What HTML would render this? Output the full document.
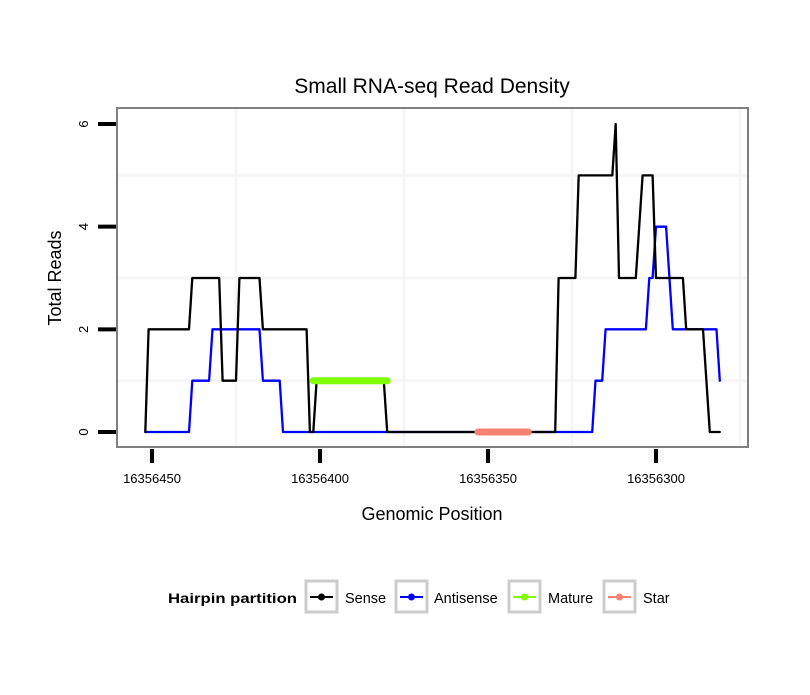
<!DOCTYPE html>
<html><head><meta charset="utf-8"><style>
body{margin:0;background:#fff;}
svg text{font-family:"Liberation Sans",sans-serif;}
</style></head><body>
<svg id="chart" width="810" height="690" xmlns="http://www.w3.org/2000/svg">
<rect width="810" height="690" fill="#fff"/>
<text x="432" y="93" font-size="21" text-anchor="middle">Small RNA-seq Read Density</text>
<g id="grid"></g>
<g id="series"></g>
<rect x="117" y="108" width="631" height="339" fill="none" stroke="#808080" stroke-width="2"/>
<g id="axes"></g>
<text x="432" y="520" font-size="18" text-anchor="middle">Genomic Position</text>
<text transform="translate(61,278) rotate(-90)" font-size="18" text-anchor="middle">Total Reads</text>
<g>
<text x="168" y="603" font-size="14" font-weight="bold" textLength="129" lengthAdjust="spacingAndGlyphs">Hairpin partition</text>
<g><rect x="306" y="581" width="31" height="31" fill="#fff" stroke="#ccc" stroke-width="3"/><line x1="310" y1="597" x2="333" y2="597" stroke="#000" stroke-width="2"/><circle cx="321.5" cy="597" r="3.5" fill="#000"/><text x="345" y="603" font-size="14.5">Sense</text></g>
<g><rect x="396" y="581" width="31" height="31" fill="#fff" stroke="#ccc" stroke-width="3"/><line x1="400" y1="597" x2="423" y2="597" stroke="#0000ff" stroke-width="2"/><circle cx="411.5" cy="597" r="3.5" fill="#0000ff"/><text x="434" y="603" font-size="14.5">Antisense</text></g>
<g><rect x="509" y="581" width="31" height="31" fill="#fff" stroke="#ccc" stroke-width="3"/><line x1="513" y1="597" x2="536" y2="597" stroke="#7fff00" stroke-width="2"/><circle cx="524.5" cy="597" r="3.5" fill="#7fff00"/><text x="548" y="603" font-size="14.5">Mature</text></g>
<g><rect x="604" y="581" width="31" height="31" fill="#fff" stroke="#ccc" stroke-width="3"/><line x1="608" y1="597" x2="631" y2="597" stroke="#fa8072" stroke-width="2"/><circle cx="619.5" cy="597" r="3.5" fill="#fa8072"/><text x="643" y="603" font-size="14.5">Star</text></g>
</g>
</svg>
<script>
const xTicks = [16356450, 16356400, 16356350, 16356300];
const yTicks = [0, 2, 4, 6];
const senseX = [16356452,16356451,16356439,16356438,16356430,16356429,16356425,16356424,16356418,16356417,16356404,16356403,16356402,16356401,16356381,16356380,16356330,16356329,16356324,16356323,16356313,16356312,16356311,16356306,16356304,16356301,16356300,16356292,16356291,16356286,16356284,16356281];
const senseY = [0,2,2,3,3,1,1,3,3,2,2,0,0,1,1,0,0,3,3,5,5,6,3,3,5,5,3,3,2,2,0,0];
const antiX = [16356452,16356439,16356438,16356433,16356432,16356418,16356417,16356412,16356411,16356319,16356318,16356316,16356315,16356303,16356302,16356301,16356300,16356297,16356295,16356282,16356281];
const antiY = [0,0,1,1,2,2,1,1,0,0,1,1,2,2,3,3,4,4,2,2,1];
const matureRange = [16356402, 16356380];
const matureVal = [1, 1];
const starRange = [16356353, 16356338];
const starVal = [0, 0];

const NS='http://www.w3.org/2000/svg';
function X(g){return 152 + (16356450 - g) * 3.36;}
function Y(v){return 432 - v * 51.33;}
function mk(tag, attrs, parent){const e=document.createElementNS(NS,tag);for(const k in attrs)e.setAttribute(k,attrs[k]);parent.appendChild(e);return e;}
const grid=document.getElementById('grid'), series=document.getElementById('series'), axes=document.getElementById('axes');
for(let i=0;i<xTicks.length;i++){
  const gx = X(xTicks[i]-25);
  const l=mk('line',{x1:gx,x2:gx,y1:109,y2:446,stroke:'#f6f6f6','stroke-width':3},grid);
  
  
}
for(let i=0;i<yTicks.length-1;i++){
  const gy = Y(yTicks[i]+1);
  const l=mk('line',{x1:118,x2:747,y1:gy,y2:gy,stroke:'#f6f6f6','stroke-width':3},grid);
  
  
}
function path(xs, ys, color, w, name){
  let d='';
  for(let i=0;i<xs.length;i++) d+=(i?'L':'M')+X(xs[i]).toFixed(1)+','+Y(ys[i]).toFixed(1);
  const p=mk('path',{d:d,fill:'none',stroke:color,'stroke-width':w,'stroke-linejoin':'round','stroke-linecap':'round'},series);
  
  
}
path(antiX, antiY, '#0000ff', 2.3, 'antisense-line');
path(senseX, senseY, '#000', 2.3, 'sense-line');
path(matureRange, matureVal, '#7fff00', 7, 'mature-segment');
path(starRange, starVal, '#fa8072', 7, 'star-segment');
xTicks.forEach(t=>{
  const x=X(t);
  const l=mk('line',{x1:x,x2:x,y1:449,y2:463,stroke:'#000','stroke-width':4},axes);
  
  
  const tx=mk('text',{x:x,y:483,'font-size':13,'text-anchor':'middle'},axes);
  tx.textContent=t;
  
  
});
yTicks.forEach(t=>{
  const y=Y(t);
  const l=mk('line',{x1:98,x2:116,y1:y,y2:y,stroke:'#000','stroke-width':4},axes);
  
  
  const tx=mk('text',{transform:'translate(88,'+y+') rotate(-90)','font-size':13,'text-anchor':'middle'},axes);
  tx.textContent=t;
  
  
});
</script>
</body></html>
